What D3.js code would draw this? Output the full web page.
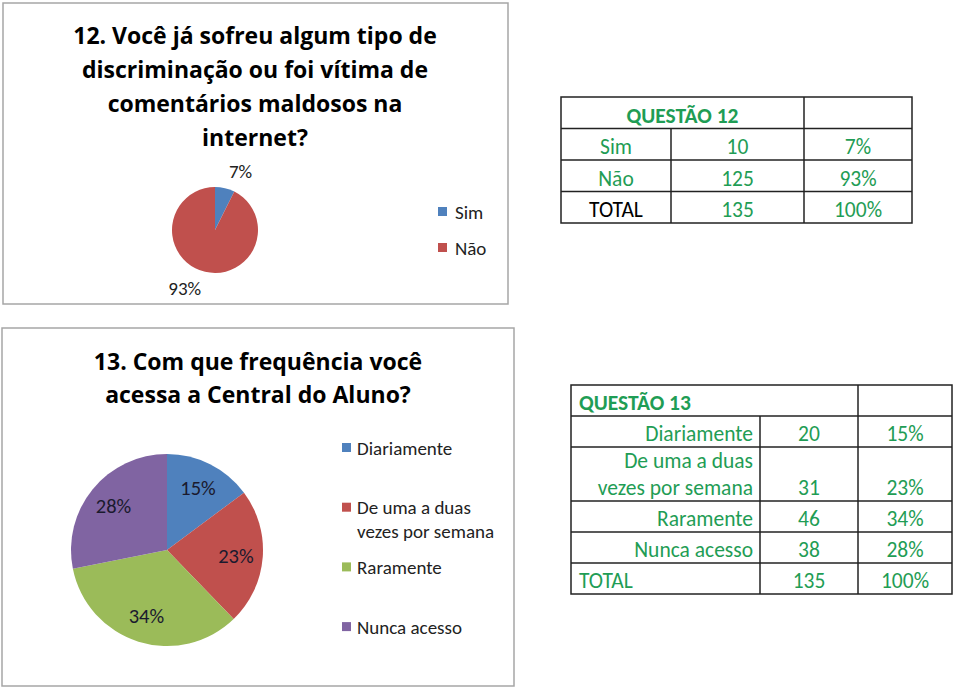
<!DOCTYPE html>
<html>
<head>
<meta charset="utf-8">
<script src="https://cdn.jsdelivr.net/npm/d3@7"></script>
<style>
body { margin: 0; background: #fff; }
svg { display: block; font-family: Carlito, Calibri, Lato, sans-serif; }
</style>
</head>
<body>
<svg id="chart" width="960" height="691"></svg>
<script>
// data
var q12Title = ["12. Você já sofreu algum tipo de", "discriminação ou foi vítima de", "comentários maldosos na", "internet?"];
var q12Categories = ["Sim", "Não"];
var q12Counts = [10, 125];

var q13Title = ["13. Com que frequência você", "acessa a Central do Aluno?"];
var q13Categories = ["Diariamente", "De uma a duas vezes por semana", "Raramente", "Nunca acesso"];
var q13Counts = [20, 31, 46, 38];

var colors = ["#4f81bd", "#c0504d", "#9bbb59", "#8064a2"];
var green = "#1f9d55";

var svg = d3.select("#chart");
svg.append("rect").attr("width", 960).attr("height", 691).attr("fill", "#fff");

function pct(v, total) { return Math.round(v / total * 100) + "%"; }

// measure text width to wrap long labels
var measurer = svg.append("text").attr("visibility", "hidden");
function wrap(str, size, maxW) {
    var words = str.split(" "), lines = [], cur = "";
    words.forEach(function (w) {
        var test = cur ? cur + " " + w : w;
        measurer.attr("font-size", size).text(test);
        if (cur && measurer.node().getComputedTextLength() > maxW) {
            lines.push(cur);
            cur = w;
        } else {
            cur = test;
        }
    });
    lines.push(cur);
    return lines;
}

function box(x, y, w, h) {
    svg.append("rect").attr("x", x).attr("y", y).attr("width", w).attr("height", h)
        .attr("fill", "#fff").attr("stroke", "#a6a6a6").attr("stroke-width", 1.5);
}

function title(lines, cx, y0, step) {
    svg.append("g").selectAll("text").data(lines).enter().append("text")
        .attr("x", cx).attr("y", function (d, i) { return y0 + i * step; })
        .attr("text-anchor", "middle").attr("font-family", "'Open Sans', sans-serif")
        .attr("font-size", 23).attr("font-weight", "bold")
        .attr("fill", "#000").text(function (d) { return d; });
}

// ---------- chart 12 ----------
box(3, 3, 505, 301);
title(q12Title, 255, 44, 34);

var total12 = d3.sum(q12Counts);
var pie = d3.pie().sort(null).value(function (d) { return d; });
var r1 = 43;
var g1 = svg.append("g").attr("transform", "translate(215,230)");
var arcs12 = pie(q12Counts);
g1.selectAll("path").data(arcs12).enter().append("path")
    .attr("d", d3.arc().innerRadius(0).outerRadius(r1))
    .attr("fill", function (d, i) { return colors[i]; });

var outer = d3.arc().innerRadius(r1 * 1.4).outerRadius(r1 * 1.4);
g1.selectAll("text").data(arcs12).enter().append("text")
    .attr("transform", function (d) { return "translate(" + outer.centroid(d) + ")"; })
    .attr("dy", "0.35em")
    .attr("text-anchor", function (d) { return (d.startAngle + d.endAngle) / 2 < Math.PI ? "start" : "end"; })
    .attr("font-size", 19).attr("fill", "#222")
    .text(function (d) { return pct(d.data, total12); });

var leg1 = svg.append("g").selectAll("g").data(q12Categories).enter().append("g")
    .attr("transform", function (d, i) { return "translate(438," + (212 + i * 36) + ")"; });
leg1.append("rect").attr("x", 0).attr("y", -5).attr("width", 9).attr("height", 9)
    .attr("fill", function (d, i) { return colors[i]; });
leg1.append("text").attr("x", 17).attr("dy", "0.35em").attr("font-size", 19).attr("fill", "#222")
    .text(function (d) { return d; });

// ---------- table 12 ----------
var t1Cols = [561, 671, 804, 912];
var t1RowH = 31.5, t1Top = 97;
var t1Rows = q12Categories.map(function (c, i) {
    return { cells: [c, String(q12Counts[i]), pct(q12Counts[i], total12)], color: green };
});
t1Rows.push({ cells: ["TOTAL", String(total12), "100%"], color: green, firstColor: "#000" });

var t1 = svg.append("g").attr("font-size", 21.5);
var t1Bottom = t1Top + t1RowH * (t1Rows.length + 1);
t1.append("rect").attr("x", t1Cols[0]).attr("y", t1Top).attr("width", t1Cols[3] - t1Cols[0])
    .attr("height", t1Bottom - t1Top).attr("fill", "none").attr("stroke", "#222").attr("stroke-width", 1.5);
for (var i = 1; i <= t1Rows.length; i++) {
    t1.append("line").attr("x1", t1Cols[0]).attr("x2", t1Cols[3])
        .attr("y1", t1Top + i * t1RowH).attr("y2", t1Top + i * t1RowH)
        .attr("stroke", "#222").attr("stroke-width", 1.5);
}
t1.append("line").attr("x1", t1Cols[1]).attr("x2", t1Cols[1])
    .attr("y1", t1Top + t1RowH).attr("y2", t1Bottom).attr("stroke", "#222").attr("stroke-width", 1.5);
t1.append("line").attr("x1", t1Cols[2]).attr("x2", t1Cols[2])
    .attr("y1", t1Top).attr("y2", t1Bottom).attr("stroke", "#222").attr("stroke-width", 1.5);
t1.append("text").attr("x", (t1Cols[0] + t1Cols[2]) / 2).attr("y", t1Top + t1RowH - 6)
    .attr("text-anchor", "middle").attr("font-weight", "bold").attr("fill", green).text("QUESTÃO 12");
t1Rows.forEach(function (row, ri) {
    row.cells.forEach(function (c, ci) {
        t1.append("text").attr("x", (t1Cols[ci] + t1Cols[ci + 1]) / 2)
            .attr("y", t1Top + (ri + 2) * t1RowH - 6)
            .attr("text-anchor", "middle")
            .attr("fill", ci === 0 && row.firstColor ? row.firstColor : row.color)
            .text(c);
    });
});

// ---------- chart 13 ----------
box(2, 328, 512, 358);
title(q13Title, 258, 370, 33);

var total13 = d3.sum(q13Counts);
var r2 = 96;
var g2 = svg.append("g").attr("transform", "translate(167,550)");
var arcs13 = pie(q13Counts);
g2.selectAll("path").data(arcs13).enter().append("path")
    .attr("d", d3.arc().innerRadius(0).outerRadius(r2))
    .attr("fill", function (d, i) { return colors[i]; });
var inner = d3.arc().innerRadius(r2 * 0.72).outerRadius(r2 * 0.72);
g2.selectAll("text").data(arcs13).enter().append("text")
    .attr("transform", function (d) { return "translate(" + inner.centroid(d) + ")"; })
    .attr("dy", "0.35em").attr("text-anchor", "middle")
    .attr("font-size", 20.5).attr("fill", "#1a1a2e")
    .text(function (d) { return pct(d.data, total13); });

var leg2 = svg.append("g").selectAll("g").data(q13Categories).enter().append("g")
    .attr("transform", function (d, i) { return "translate(342," + (448 + i * 59.7) + ")"; });
leg2.append("rect").attr("x", 0).attr("y", -5).attr("width", 9).attr("height", 9)
    .attr("fill", function (d, i) { return colors[i]; });
leg2.each(function (d) {
    var lines = wrap(d, 19, 150);
    d3.select(this).selectAll("text").data(lines).enter().append("text")
        .attr("x", 15).attr("y", function (l, k) { return k * 23.5; })
        .attr("dy", "0.35em").attr("font-size", 19).attr("fill", "#222")
        .text(function (l) { return l; });
});

// ---------- table 13 ----------
var t2Cols = [571, 760, 858, 952];
var t2Top = 385, t2BaseH = 31, t2ExtraH = 23, t2LineH = 27;
var t2 = svg.append("g").attr("font-size", 21.5).attr("fill", green);
var t2Rows = q13Categories.map(function (c, i) {
    return { label: wrap(c, 21.5, 170), n: String(q13Counts[i]), p: pct(q13Counts[i], total13), align: "end" };
});
t2Rows.push({ label: ["TOTAL"], n: String(total13), p: "100%", align: "start" });

var ys = [t2Top, t2Top + t2BaseH];
t2Rows.forEach(function (row) {
    ys.push(ys[ys.length - 1] + t2BaseH + (row.label.length - 1) * t2ExtraH);
});
var t2Bottom = ys[ys.length - 1];
t2.append("rect").attr("x", t2Cols[0]).attr("y", t2Top).attr("width", t2Cols[3] - t2Cols[0])
    .attr("height", t2Bottom - t2Top).attr("fill", "none").attr("stroke", "#222").attr("stroke-width", 1.5);
ys.slice(1, -1).forEach(function (y) {
    t2.append("line").attr("x1", t2Cols[0]).attr("x2", t2Cols[3]).attr("y1", y).attr("y2", y)
        .attr("stroke", "#222").attr("stroke-width", 1.5);
});
t2.append("line").attr("x1", t2Cols[1]).attr("x2", t2Cols[1]).attr("y1", ys[1]).attr("y2", t2Bottom)
    .attr("stroke", "#222").attr("stroke-width", 1.5);
t2.append("line").attr("x1", t2Cols[2]).attr("x2", t2Cols[2]).attr("y1", t2Top).attr("y2", t2Bottom)
    .attr("stroke", "#222").attr("stroke-width", 1.5);
t2.append("text").attr("x", t2Cols[0] + 8).attr("y", ys[1] - 6)
    .attr("font-weight", "bold").text("QUESTÃO 13");
t2Rows.forEach(function (row, ri) {
    var bottom = ys[ri + 2] - 6;
    row.label.forEach(function (l, k) {
        t2.append("text")
            .attr("x", row.align === "end" ? t2Cols[1] - 7 : t2Cols[0] + 8)
            .attr("y", bottom - (row.label.length - 1 - k) * t2LineH)
            .attr("text-anchor", row.align).text(l);
    });
    t2.append("text").attr("x", (t2Cols[1] + t2Cols[2]) / 2).attr("y", bottom)
        .attr("text-anchor", "middle").text(row.n);
    t2.append("text").attr("x", (t2Cols[2] + t2Cols[3]) / 2).attr("y", bottom)
        .attr("text-anchor", "middle").text(row.p);
});
measurer.remove();
</script>
</body>
</html>
